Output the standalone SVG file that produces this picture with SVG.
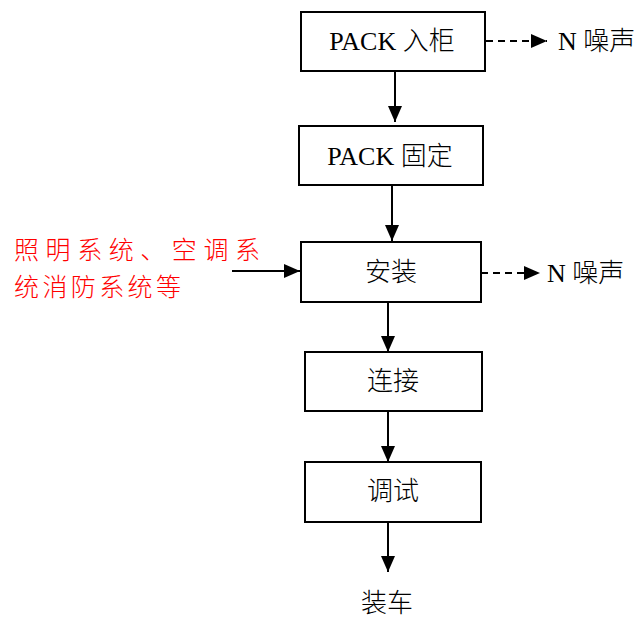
<svg xmlns="http://www.w3.org/2000/svg" width="640" height="619" viewBox="0 0 640 619">
<style>
.box{fill:#fff;stroke:#000;stroke-width:2}
.t{font-family:"Liberation Serif","Noto Sans CJK SC",serif;font-size:26px;font-weight:300;fill:#000;text-anchor:middle;dominant-baseline:central}
.n{font-family:"Liberation Serif","Noto Sans CJK SC",serif;font-size:26px;font-weight:300;fill:#000;dominant-baseline:central}
.r{font-family:"Liberation Serif","Noto Sans CJK SC",serif;font-size:25px;font-weight:300;fill:#f00;dominant-baseline:central}
.c{stroke:#000;stroke-width:2;fill:none}
.d{stroke-dasharray:7,5}
</style>
<defs>
<marker id="ah" markerWidth="16" markerHeight="14" refX="16" refY="7" orient="auto" markerUnits="userSpaceOnUse">
<path d="M0,0 L16,7 L0,14 Z" fill="#000"/>
</marker>
</defs>
<g id="connectors">
<line class="c" x1="395" y1="71" x2="395" y2="122" marker-end="url(#ah)"/>
<line class="c" x1="392" y1="186" x2="392" y2="241" marker-end="url(#ah)"/>
<line class="c" x1="388" y1="302" x2="388" y2="352" marker-end="url(#ah)"/>
<line class="c" x1="388" y1="411" x2="388" y2="462" marker-end="url(#ah)"/>
<line class="c" x1="388" y1="522" x2="388" y2="572" marker-end="url(#ah)"/>
<line class="c d" x1="486" y1="41" x2="547" y2="41" marker-end="url(#ah)"/>
<line class="c d" x1="481" y1="273" x2="540" y2="273" marker-end="url(#ah)"/>
<line class="c" x1="232" y1="271" x2="300" y2="271" marker-end="url(#ah)"/>
</g>
<g id="n1"><rect class="box" x="301" y="12" width="184" height="59"/><text class="t" x="392" y="41">PACK 入柜</text></g>
<g id="n2"><rect class="box" x="299" y="126" width="184" height="59"/><text class="t" x="390" y="156">PACK 固定</text></g>
<g id="n3"><rect class="box" x="301" y="242" width="180" height="60"/><text class="t" x="391" y="272">安装</text></g>
<g id="n4"><rect class="box" x="305" y="352" width="177" height="59"/><text class="t" x="393" y="381">连接</text></g>
<g id="n5"><rect class="box" x="305" y="462" width="176" height="60"/><text class="t" x="393" y="491">调试</text></g>
<g id="noise1"><text class="n" x="558" y="41">N 噪声</text></g>
<g id="noise2"><text class="n" x="547" y="273">N 噪声</text></g>
<g id="input"><text class="r" x="14" y="250" textLength="246" lengthAdjust="spacing">照明系统、空调系</text><text class="r" x="14" y="287" textLength="167" lengthAdjust="spacing">统消防系统等</text></g>
<g id="end"><text class="t" x="387" y="603">装车</text></g>
</svg>
